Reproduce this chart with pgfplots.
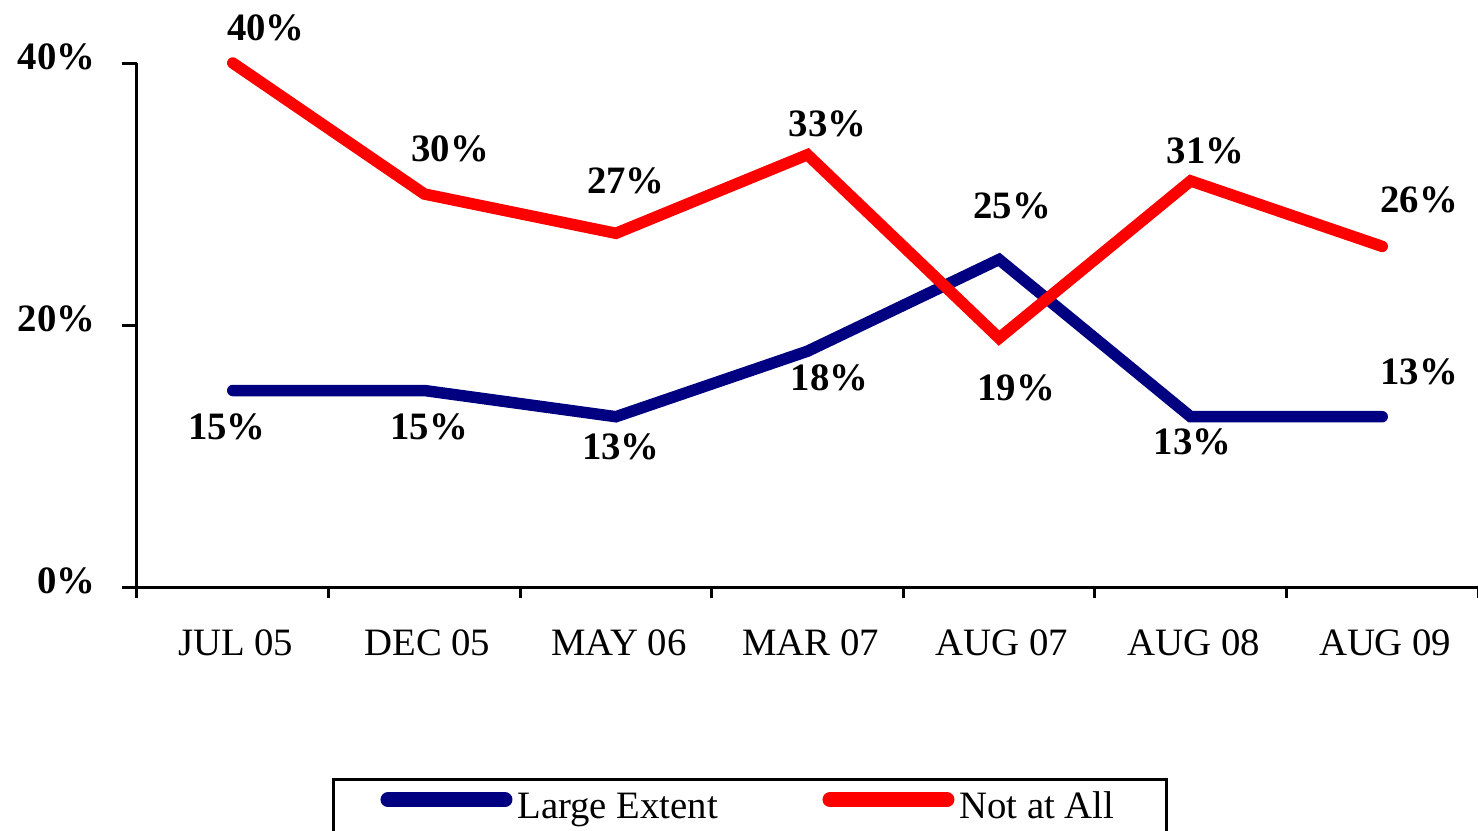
\documentclass[border=0pt]{standalone}
\usepackage{pgfplots}
\pgfplotsset{compat=1.18}
\usepackage{pgfplotstable}
\usepackage{fontspec}
\setmainfont{Liberation Serif}
\definecolor{navyb}{HTML}{000080}
\definecolor{redl}{HTML}{FF0000}

\pgfplotstableread{
x y dx dy
0 15 -6 -36
1 15 5 -36
2 13 5 -30
3 18 22 -27
4 25 13 54
5 13 2 -25
6 13 37 45
}\tblLarge

\pgfplotstableread{
x y dx dy
0 40 33 35
1 30 26 45
2 27 10 52
3 33 20 31
4 19 17 -50
5 31 15 30
6 26 37 47
}\tblNot

\begin{document}
\begin{tikzpicture}
\useasboundingbox (-54.8pt,-97.2pt) rectangle (536.4pt,234.8pt);
\begin{axis}[
  name=ax, at={(0,0)}, anchor=south west,
  scale only axis, width=536.4pt, height=209.6pt,
  xmin=-0.5, xmax=6.5, ymin=0, ymax=40,
  clip=false,
  axis lines*=left,
  axis line style={line width=1.2pt},
  tick align=outside,
  xtick={0,...,6},
  xticklabels={JUL 05,DEC 05,MAY 06,MAR 07,AUG 07,AUG 08,AUG 09},
  major x tick style={draw=none},
  minor xtick={-0.5,0.5,...,6.5},
  minor tick length=4.4pt,
  minor x tick style={line width=1.2pt, black},
  ytick={0,20,40},
  major tick length=6pt,
  major y tick style={line width=1.2pt, black},
  yticklabel={\pgfmathprintnumber{\tick}\%},
  /pgf/number format/assume math mode=true,
  yticklabel style={font=\bfseries\fontsize{15.5}{18}\selectfont, yshift=2.4pt, xshift=-7.2pt},
  xticklabel style={font=\fontsize{15.5}{18}\selectfont, yshift=-7.6pt, xshift=1.2pt},
  legend style={at={(0.1454,-0.3645)}, anchor=north west, draw=black, line width=1.2pt,
    inner xsep=18.8pt, inner ysep=5pt,
    nodes={inner sep=0pt, anchor=base west, text height=10.5pt, text depth=30pt, font=\fontsize{15.5}{18}\selectfont},
    /tikz/every odd column/.append style={column sep=2pt},
    font=\fontsize{15.5}{18}\selectfont},
  legend columns=2,
  legend image code/.code={\draw[#1, line width=6pt, line cap=round] (0pt,7.4pt) -- (46.8pt,7.4pt);},
  every node near coord/.append style={anchor=center, text=black,
    font=\bfseries\fontsize{15.5}{18}\selectfont},
]
\addplot[navyb, line width=4.6pt, line cap=round, line join=miter,
  point meta=y,
  visualization depends on={\thisrow{dx} \as \dx},
  visualization depends on={\thisrow{dy} \as \dy},
  nodes near coords={\pgfmathprintnumber{\pgfplotspointmeta}\%},
  every node near coord/.append style={xshift=0.4pt*\dx, yshift=0.4pt*\dy},
] table[x=x,y=y] {\tblLarge};
\addlegendentry{\makebox[122pt][l]{Large Extent}}
\addplot[redl, line width=4.6pt, line cap=round, line join=miter,
  point meta=y,
  visualization depends on={\thisrow{dx} \as \dx},
  visualization depends on={\thisrow{dy} \as \dy},
  nodes near coords={\pgfmathprintnumber{\pgfplotspointmeta}\%},
  every node near coord/.append style={xshift=0.4pt*\dx, yshift=0.4pt*\dy},
] table[x=x,y=y] {\tblNot};
\addlegendentry{\makebox[64pt][l]{Not at All}}
\end{axis}
\end{tikzpicture}
\end{document}
